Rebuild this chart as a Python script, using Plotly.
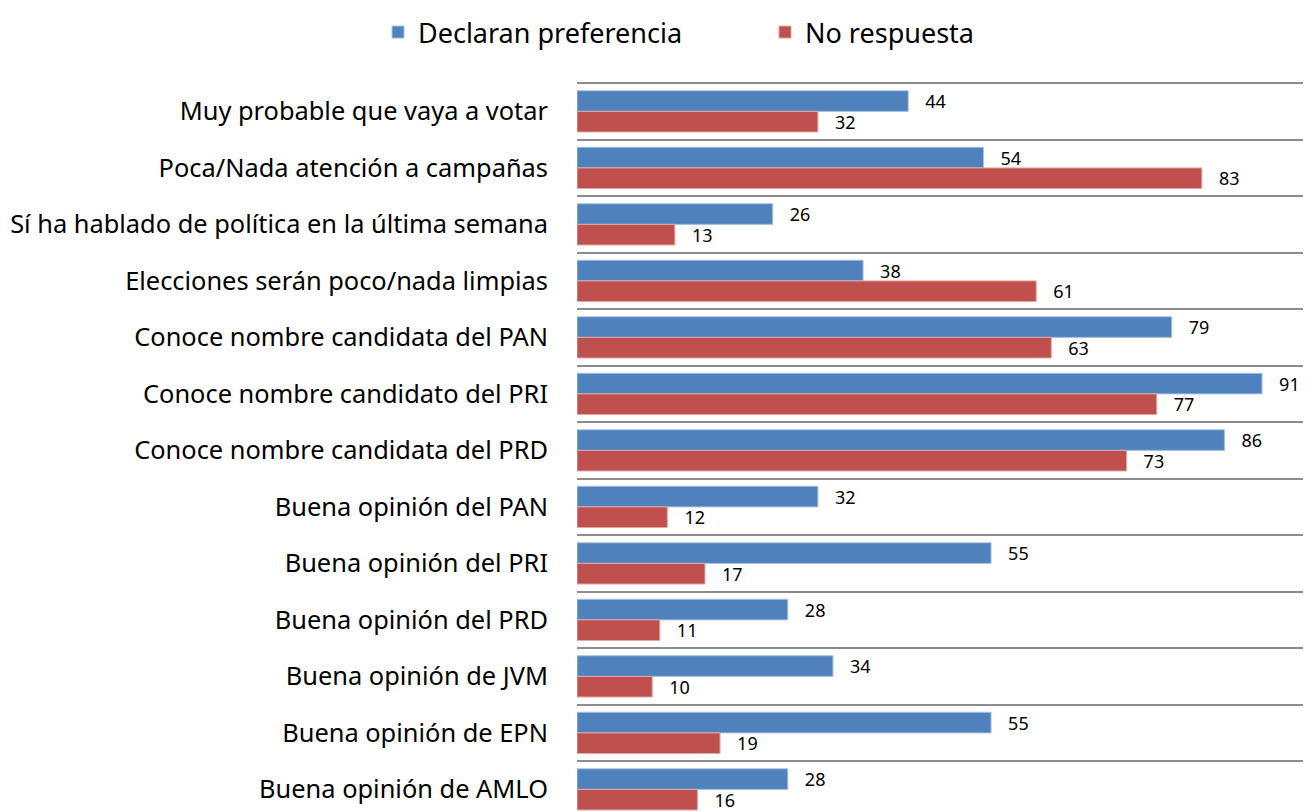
import plotly.graph_objects as go

categories = [
    "Muy probable que vaya a votar",
    "Poca/Nada atención a campañas",
    "Sí ha hablado de política en la última semana",
    "Elecciones serán poco/nada limpias",
    "Conoce nombre candidata del PAN",
    "Conoce nombre candidato del PRI",
    "Conoce nombre candidata del PRD",
    "Buena opinión del PAN",
    "Buena opinión del PRI",
    "Buena opinión del PRD",
    "Buena opinión de JVM",
    "Buena opinión de EPN",
    "Buena opinión de AMLO",
]
declaran = [44, 54, 26, 38, 79, 91, 86, 32, 55, 28, 34, 55, 28]
no_respuesta = [32, 83, 13, 61, 63, 77, 73, 12, 17, 11, 10, 19, 16]

FONT = "Noto Sans"

fig = go.Figure()
fig.add_trace(go.Bar(
    y=categories, x=declaran, orientation="h", name="Declaran preferencia",
    marker=dict(color="#4F81BD", line=dict(color="#A7C0E0", width=1)),
    text=declaran, texttemplate="   %{x}", textposition="outside",
    constraintext="none",
    textfont=dict(family=FONT, size=18, color="#000000"), cliponaxis=False,
    legend="legend",
))
fig.add_trace(go.Bar(
    y=categories, x=no_respuesta, orientation="h", name="No respuesta",
    marker=dict(color="#C0504D", line=dict(color="#E0A8A6", width=1)),
    text=no_respuesta, texttemplate="   %{x}", textposition="outside",
    constraintext="none",
    textfont=dict(family=FONT, size=18, color="#000000"), cliponaxis=False,
    legend="legend2",
))

leg_common = dict(orientation="h", xref="container", yref="container",
                  xanchor="left", y=1.0, yanchor="top",
                  font=dict(family=FONT, size=27), bgcolor="rgba(0,0,0,0)")

fig.update_layout(
    width=1303, height=804,
    margin=dict(l=569, r=0, t=74, b=0, autoexpand=False),
    barmode="group", bargap=0.27, bargroupgap=0,
    plot_bgcolor="white", paper_bgcolor="white",
    font=dict(family=FONT, color="#000000"),
    legend=dict(x=370 / 1303, **leg_common),
    legend2=dict(x=757 / 1303, **leg_common),
    showlegend=True,
)
fig.update_xaxes(range=[0, 97.5], showgrid=False, showticklabels=False,
                 zeroline=False, showline=False, ticks="")
fig.update_yaxes(autorange=False, range=[12.4, -0.52], type="category",
                 tickson="boundaries", showgrid=True, gridcolor="#8C8C8C",
                 gridwidth=2, ticks="", ticklabelstandoff=28,
                 tickfont=dict(family=FONT, size=25.4, color="#000000"),
                 showline=False, zeroline=False)

fig.write_html("out.html")
